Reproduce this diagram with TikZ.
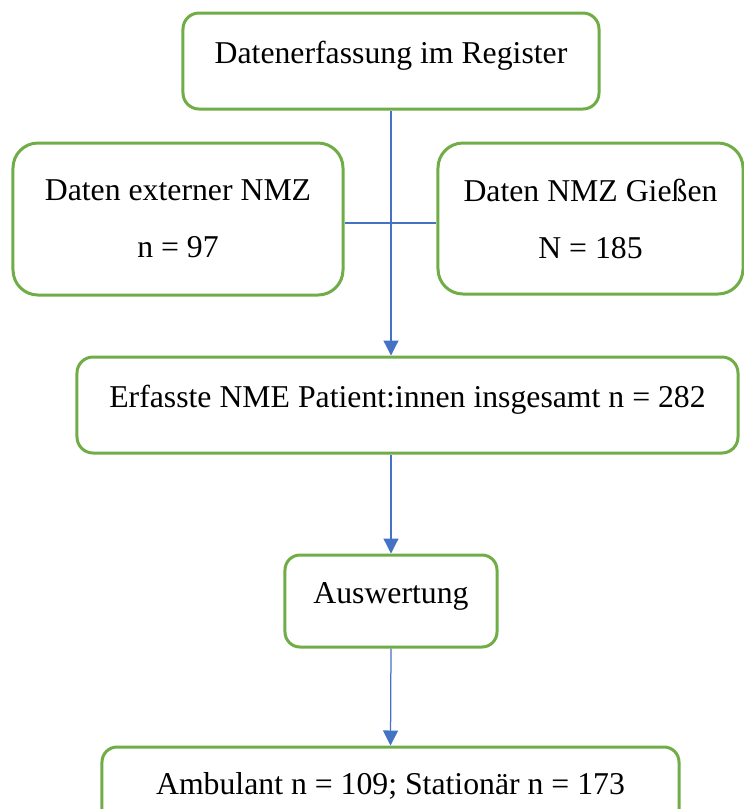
\documentclass[tikz,border=0pt]{standalone}
\usepackage{fontspec}
\setmainfont{Liberation Serif}
\usetikzlibrary{arrows.meta,positioning}
\definecolor{boxgreen}{RGB}{112,173,71}
\definecolor{lineblue}{RGB}{68,114,196}
\tikzset{
    regbox/.style={draw=boxgreen, line width=1.2pt, rounded corners=#1,
                   fill=white, inner sep=0pt, align=center,
                   font=\fontsize{12.7}{22.8}\selectfont},
    onerow/.style={text height=10pt, text depth=8.4pt},
}

\begin{document}
\begin{tikzpicture}[
    x=0.4pt, y=-0.4pt,
    link/.style={lineblue, line width=0.5pt},
    arr/.style={-{Triangle[length=6pt,width=6pt]}, lineblue, line width=0.5pt}
]
    \useasboundingbox (0,0) rectangle (744,809);
    \clip (0,0) rectangle (744,809);

    \node[regbox=6.4pt, onerow, minimum width=166.4pt, minimum height=38.4pt] (reg) at (391,61) {Datenerfassung im Register};
    \node[regbox=10pt, minimum width=132pt, minimum height=60.8pt] (ext) at (178,219) {Daten externer NMZ\\n = 97};
    \node[regbox=10pt, minimum width=122pt, minimum height=60.4pt] (gie) at (590.5,218.5) {Daten NMZ Gießen\\N = 185};
    \node[regbox=6.4pt, onerow, minimum width=264.4pt, minimum height=38.4pt] (total) at (407.5,405) {Erfasste NME Patient:innen insgesamt n = 282};
    \node[regbox=6pt, onerow, minimum width=84.8pt, minimum height=36.8pt] (eval) at (391,601) {Auswertung};
    \node[regbox=6pt, onerow, minimum width=230.8pt, minimum height=36pt] (split) at (390.5,792) {Ambulant n = 109; Stationär n = 173};

    \draw[link] ([yshift=-1.6pt]ext.east) -- ([yshift=-1.6pt]ext.east -| gie.west);
    \draw[arr] (reg.south) -- (reg.south |- total.north);
    \draw[arr] (eval.north |- total.south) -- (eval.north);
    \draw[arr] (eval.south) -- (split.north);
\end{tikzpicture}
\end{document}
